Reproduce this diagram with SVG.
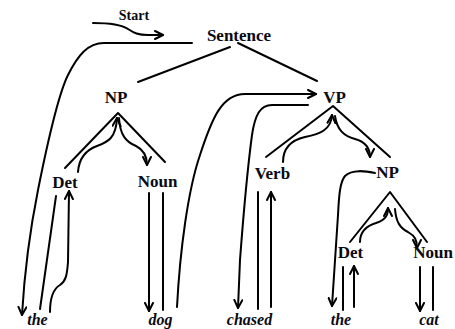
<svg xmlns="http://www.w3.org/2000/svg" width="455" height="329" viewBox="0 0 455 329">
<style>
.n{font-family:"Liberation Serif","DejaVu Serif",serif;font-weight:bold;font-size:17px;fill:#0a0a14;text-anchor:middle}
.w{font-family:"Liberation Serif","DejaVu Serif",serif;font-weight:bold;font-style:italic;font-size:16px;fill:#0a0a14;text-anchor:middle}
.c path{fill:none;stroke:#000;stroke-width:2;stroke-linecap:round;stroke-linejoin:round}
.a{marker-end:url(#ah)}
</style>
<defs>
<marker id="ah" markerUnits="userSpaceOnUse" viewBox="0 0 10 10" refX="9" refY="5" markerWidth="10" markerHeight="10" orient="auto">
<path d="M1,1 L9,5 L1,9" fill="none" stroke="#000" stroke-width="2" stroke-linecap="round" stroke-linejoin="round"/>
</marker>
</defs>
<rect width="455" height="329" fill="#fff"/>
<g id="connectors" class="c">
<path class="a" d="M93,23 C112,23 122,25 128,29 C134,33 138,35 148,35 L163,35"/>
<path class="a" d="M192,43 L104,43 C88,43 78,55 68,75 C58,95 48,140 38,190 C30,230 24,280 22,315"/>
<path d="M230,47 L138,82"/>
<path d="M238,43 L317,81"/>
<path d="M65,168 L118,113 L165,162"/>
<path d="M266,157 L333,106 L390,157"/>
<path d="M350,242 L390,192 L427,242"/>
<path class="a" d="M78,172 C79,158 86,150 97,146 C108,142 116,138 117,118"/>
<path class="a" d="M119,118 C120,135 126,142 136,146 C144,150 147,156 147,165"/>
<path d="M56,196 L40,309"/>
<path class="a" d="M50,312 C50,298 53,289 60,285 C66,281 67,275 68,262 L69,191"/>
<path class="a" d="M149,193 L149,311"/>
<path d="M163,193 L163,310"/>
<path class="a" d="M177,307 C180,250 188,190 200,155 C212,118 222,94 245,94 L316,94"/>
<path class="a" d="M308,105 L272,105 C260,105 255,115 252,135 C248,165 243,220 240,260 L238,308"/>
<path class="a" d="M283,162 C283,148 292,140 305,137 C320,134 331,130 332,115"/>
<path class="a" d="M335,116 C337,130 344,136 355,139 C366,142 370,148 370,157"/>
<path d="M258,192 L258,309"/>
<path class="a" d="M271,307 L271,192"/>
<path class="a" d="M375,173 C365,171 352,169 345,176 C340,182 339,195 338,215 L332,306"/>
<path class="a" d="M360,242 C360,232 366,226 376,223 C385,220 388,216 388,208"/>
<path class="a" d="M395,209 C396,222 400,228 408,232 C415,236 417,240 417,248"/>
<path d="M343,267 L343,310"/>
<path class="a" d="M354,307 L354,266"/>
<path class="a" d="M420,267 L420,311"/>
<path d="M433,267 L433,310"/>
</g>
<g id="node-start"><text class="n" x="134" y="20" style="font-size:14px">Start</text></g>
<g id="node-sentence"><text class="n" x="239" y="41">Sentence</text></g>
<g id="node-np1"><text class="n" x="116" y="103">NP</text></g>
<g id="node-vp"><text class="n" x="334.5" y="103">VP</text></g>
<g id="node-det1"><text class="n" x="65" y="188">Det</text></g>
<g id="node-noun1"><text class="n" x="157.5" y="187">Noun</text></g>
<g id="node-verb"><text class="n" x="272.5" y="179">Verb</text></g>
<g id="node-np2"><text class="n" x="387.5" y="178">NP</text></g>
<g id="node-det2"><text class="n" x="350.5" y="258">Det</text></g>
<g id="node-noun2"><text class="n" x="433" y="258">Noun</text></g>
<g id="word-the1"><text class="w" x="37.5" y="325">the</text></g>
<g id="word-dog"><text class="w" x="160.5" y="325">dog</text></g>
<g id="word-chased"><text class="w" x="249.5" y="325">chased</text></g>
<g id="word-the2"><text class="w" x="341" y="325">the</text></g>
<g id="word-cat"><text class="w" x="429" y="325">cat</text></g>
</svg>
